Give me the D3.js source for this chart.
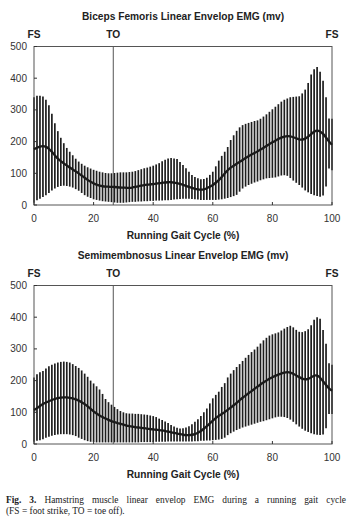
<!DOCTYPE html>
<html>
<head>
<meta charset="utf-8">
<script src="https://d3js.org/d3.v7.min.js"></script>
<style>
  body { margin: 0; background: #fff; }
  .tick-label { font: 10px "Liberation Sans", Arial, sans-serif; fill: #333; }
  .bold { font: bold 10.2px "Liberation Sans", Arial, sans-serif; fill: #222; }
  .caption { font: 9.4px "Liberation Serif", "Times New Roman", serif; fill: #222; }
</style>
</head>
<body>
<svg id="chart" width="353" height="523"></svg>
<script>
// gait cycle percentages (one bar per percent)
const gait = d3.range(0, 101);
const xTicks = [0, 20, 40, 60, 80, 100];
const yTicks = [0, 100, 200, 300, 400, 500];
const toeOff = 26.6;

// Biceps femoris: mean and mean +/- SD
const bfMean = [176,181,185,186,184,178,168,156,146,138,131,
  125,118,112,106,100,93,86,79,73,68,
  64,61,59,58,58,57,57,56,55,55,
  54,54,55,57,59,61,63,64,65,66,
  67,69,70,71,72,72,71,69,67,64,
  60,57,54,51,49,48,49,53,57,63,
  70,78,88,100,110,118,124,130,136,142,
  148,154,159,164,169,175,180,186,192,198,
  203,208,213,216,218,217,214,210,207,206,
  209,215,224,232,236,233,225,213,200,190];
const bfHigh = [340,345,345,342,332,315,288,258,233,212,195,
  180,168,157,146,137,130,124,119,115,111,
  108,105,103,101,100,100,101,102,103,103,
  103,104,105,107,110,113,116,118,121,124,
  128,132,138,143,147,148,147,145,136,126,
  116,105,95,88,84,81,82,86,95,105,
  122,140,155,168,183,205,220,234,245,252,
  256,259,262,265,267,272,279,286,294,302,
  310,318,326,332,336,340,341,342,343,352,
  364,385,412,428,435,420,392,340,273,272];
const bfLow = [8,15,20,25,31,38,46,52,57,60,61,
  60,58,55,50,45,38,31,26,22,18,
  16,14,12,11,10,9,8,7,7,7,
  8,9,10,10,11,11,12,12,13,13,
  14,14,14,15,15,16,17,18,19,20,
  20,20,19,18,17,16,16,16,16,16,
  16,17,18,20,22,25,28,32,42,52,
  58,63,67,71,74,78,81,84,85,86,
  87,90,93,94,92,85,77,70,63,55,
  46,40,35,31,28,26,30,58,115,110];

// Semimembranosus: mean and mean +/- SD
const smMean = [107,113,120,126,131,135,139,142,145,146,147,
  147,146,144,141,137,132,126,119,111,103,
  96,90,85,80,76,72,69,66,64,61,
  58,56,55,53,52,51,50,48,47,46,
  45,44,43,41,39,37,35,33,31,29,
  28,28,29,31,35,41,48,56,65,74,
  82,89,95,100,108,115,122,130,138,146,
  153,160,167,174,181,188,194,200,206,211,
  215,219,222,225,227,226,222,216,211,206,
  203,205,210,216,217,210,198,186,175,168];
const smHigh = [210,220,226,230,238,245,250,254,257,259,260,
  259,257,252,246,240,232,222,212,200,191,
  182,172,158,142,132,124,117,110,104,100,
  97,96,96,95,95,94,93,92,90,88,
  85,80,76,71,66,60,55,51,49,50,
  52,56,62,70,78,88,100,112,128,144,
  155,165,180,192,210,222,233,243,252,262,
  272,281,290,298,307,317,327,335,342,346,
  349,352,358,364,369,373,368,360,354,353,
  356,362,375,392,400,395,360,316,255,250];
const smLow = [8,10,12,15,20,23,26,28,30,31,31,
  31,30,28,25,20,16,12,9,7,6,
  5,5,5,5,5,5,5,5,5,5,
  5,5,5,5,5,6,6,6,6,6,
  7,7,7,7,8,8,8,8,8,8,
  8,8,8,9,9,10,10,11,11,12,
  13,14,16,20,28,34,39,44,48,52,
  55,58,61,64,67,70,72,75,78,81,
  84,86,86,85,82,77,70,62,55,48,
  42,38,34,31,29,28,30,50,95,95];

const svg = d3.select('svg#chart');
const left = 34, right = 332;
const x = d3.scaleLinear().domain([0, 100]).range([left, right]);

function drawPanel(top, title, mean, high, low) {
  const bottom = top + 158.5;
  const y = d3.scaleLinear().domain([0, 500]).range([bottom, top]);
  const g = svg.append('g');

  // title and event labels
  g.append('text').attr('class', 'bold')
    .attr('x', (left + right) / 2).attr('y', top - 27)
    .attr('text-anchor', 'middle').text(title);
  g.append('text').attr('class', 'bold').attr('x', x(0)).attr('y', top - 9)
    .attr('text-anchor', 'middle').text('FS');
  g.append('text').attr('class', 'bold').attr('x', x(toeOff)).attr('y', top - 9)
    .attr('text-anchor', 'middle').text('TO');
  g.append('text').attr('class', 'bold').attr('x', x(100)).attr('y', top - 9)
    .attr('text-anchor', 'middle').text('FS');

  // SD bars
  g.selectAll('line.bar').data(gait).join('line')
    .attr('class', 'bar')
    .attr('x1', d => x(d)).attr('x2', d => x(d))
    .attr('y1', d => y(Math.max(0, low[d]))).attr('y2', d => y(high[d]))
    .attr('stroke', '#1e1e1e').attr('stroke-width', 1.7);

  // toe-off line
  g.append('line')
    .attr('x1', x(toeOff)).attr('x2', x(toeOff))
    .attr('y1', top).attr('y2', bottom)
    .attr('stroke', '#555').attr('stroke-width', 1);

  // frame
  g.append('rect')
    .attr('x', left).attr('y', top)
    .attr('width', right - left).attr('height', bottom - top)
    .attr('fill', 'none').attr('stroke', '#555').attr('stroke-width', 1);

  // inner ticks
  g.selectAll('line.yt').data(yTicks).join('line')
    .attr('class', 'yt')
    .attr('x1', left).attr('x2', left + 3)
    .attr('y1', d => y(d)).attr('y2', d => y(d))
    .attr('stroke', '#333');
  g.selectAll('line.xt').data(xTicks).join('line')
    .attr('class', 'xt')
    .attr('x1', d => x(d)).attr('x2', d => x(d))
    .attr('y1', bottom).attr('y2', bottom - 3)
    .attr('stroke', '#333');

  // mean curve
  const line = d3.line().x(d => x(d)).y(d => y(mean[d])).curve(d3.curveBasis);
  g.append('path').datum(gait)
    .attr('d', line)
    .attr('fill', 'none').attr('stroke', '#1a1a1a').attr('stroke-width', 2.3);

  // tick labels
  g.selectAll('text.yl').data(yTicks).join('text')
    .attr('class', 'tick-label yl')
    .attr('x', left - 7).attr('y', d => y(d) + 3.5)
    .attr('text-anchor', 'end').text(d => d);
  g.selectAll('text.xl').data(xTicks).join('text')
    .attr('class', 'tick-label xl')
    .attr('x', d => x(d)).attr('y', bottom + 17)
    .attr('text-anchor', 'middle').text(d => d);

  g.append('text').attr('class', 'bold')
    .attr('x', (left + right) / 2).attr('y', bottom + 34)
    .attr('text-anchor', 'middle').text('Running Gait Cycle (%)');
}

drawPanel(46.5, 'Biceps Femoris Linear Envelop EMG (mv)', bfMean, bfHigh, bfLow);
drawPanel(285.5, 'Semimembnosus Linear Envelop EMG (mv)', smMean, smHigh, smLow);

// caption, first line justified to the text width
const cap1 = svg.append('text').attr('class', 'caption').attr('x', 6).attr('y', 503);
cap1.append('tspan').attr('font-weight', 'bold').text('Fig. 3.');
cap1.append('tspan').text(' Hamstring muscle linear envelop EMG during a running gait cycle');
const natural = cap1.node().getComputedTextLength();
const gaps = 11;
cap1.attr('word-spacing', Math.max(0, (340 - natural) / gaps));

svg.append('text').attr('class', 'caption').attr('x', 6).attr('y', 514)
  .text('(FS = foot strike, TO = toe off).');
</script>
</body>
</html>
